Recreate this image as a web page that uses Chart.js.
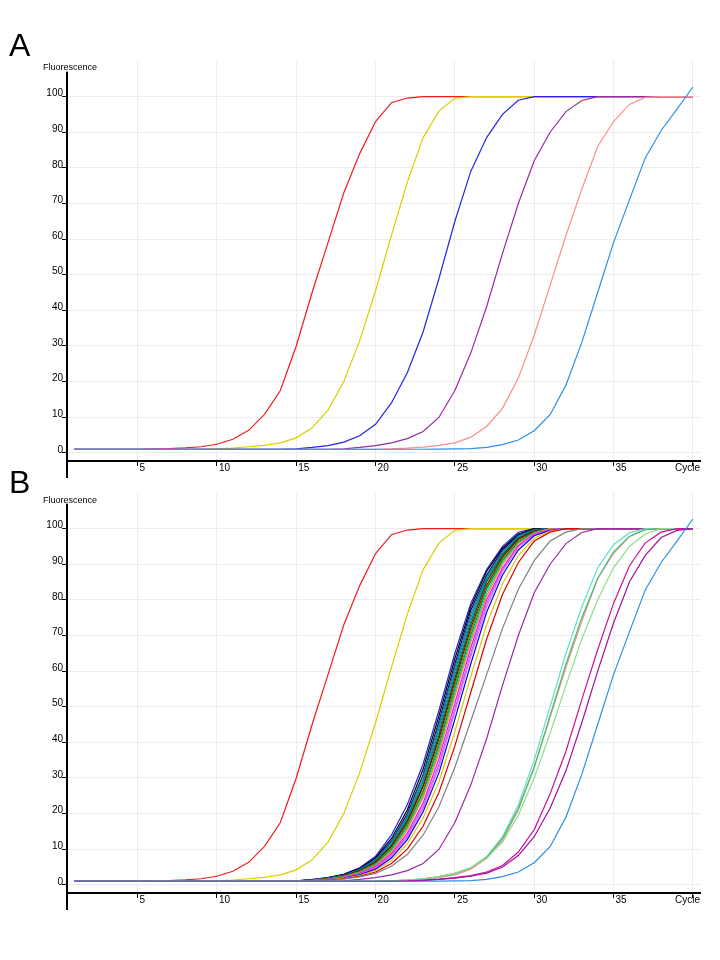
<!DOCTYPE html>
<html>
<head>
<meta charset="utf-8">
<script src="https://cdn.jsdelivr.net/npm/chart.js@4.4.1/dist/chart.umd.min.js"></script>
<style>
  body { margin: 0; background: #fff; width: 720px; height: 960px; position: relative; overflow: hidden;
         font-family: "Liberation Sans", Arial, sans-serif; }
  .panel { position: absolute; left: 0; width: 720px; height: 480px; }
  .letter { position: absolute; left: 9px; font-size: 32px; line-height: 1; color: #000; }
  .ytitle { position: absolute; left: 43px; font-size: 9px; line-height: 1; color: #000; }
</style>
</head>
<body>
<canvas id="chartA" class="panel" style="top:0" width="720" height="480"></canvas>
<canvas id="chartB" class="panel" style="top:432px" width="720" height="480"></canvas>
<div class="letter" style="top:29px">A</div>
<div class="letter" style="top:466px">B</div>
<div class="ytitle" style="top:63px">Fluorescence</div>
<div class="ytitle" style="top:496px">Fluorescence</div>

<script>
// axis ticks
const xTicks = [5, 10, 15, 20, 25, 30, 35, 40];
const xTickLabels = ["5", "10", "15", "20", "25", "30", "35", ""];
const yTicks = [0, 10, 20, 30, 40, 50, 60, 70, 80, 90, 100];
const yTickLabels = ["0", "10", "20", "30", "40", "50", "60", "70", "80", "90", "100"];

const cycles = [1,2,3,4,5,6,7,8,9,10, 11,12,13,14,15,16,17,18,19,20,
                21,22,23,24,25,26,27,28,29,30, 31,32,33,34,35,36,37,38,39,40];

// panel A curves (also reused in B)
const redCurve = [1,1,1,1,1,1.1,1.2,1.4,1.7,2.4, 3.8,6.3,10.8,17.5,30,45,59,73,84,93,
                  98.3,99.6,100,100,100,100,100,100,100,100, 100,100,100,100,100,100,100,100,100,100];
const yellowCurve = [1,1,1,1,1,1,1,1,1,1.1, 1.3,1.7,2.1,2.8,4.2,7,12,20,31.5,45.5,
                     61,76,88.5,96,99.5,100,100,100,100,100, 100,100,100,100,100,100,100,100,100,100];
const blueCurve = [1,1,1,1,1,1,1,1,1,1, 1,1,1,1,1.1,1.5,2,3,4.8,8,
                   14,22.5,34,49,65,79,88.5,95,99,100, 100,100,100,100,100,100,100,100,100,100];
const purpleCurve = [1,1,1,1,1,1,1,1,1,1, 1,1,1,1,1,1,1,1.1,1.5,2,
                     2.8,4,6,10,17.5,28,41,56,70,82, 90,95.8,98.9,100,100,100,100,100,100,100];
const salmonCurve = [1,1,1,1,1,1,1,1,1,1, 1,1,1,1,1,1,1,1,1,1,
                     1.1,1.3,1.6,2.1,2.8,4.4,7.4,12.5,21,33, 47,61,74,86,93,97.8,99.8,100,100,100];
const skyCurve = [1,1,1,1,1,1,1,1,1,1, 1,1,1,1,1,1,1,1,1,1,
                  1,1,1,1.05,1.1,1.2,1.5,2.3,3.6,6.2, 10.7,19,31,45,59,71,82.8,90.5,96.5,102.7];

// panel B: the dense group around cycle 24
const blackCurve = [1,1,1,1,1,1,1,1,1,1, 1,1,1,1,1.1,1.4,2,2.9,4.6,7.6,
                    13,21,32.5,47.5,63.5,78,88,94.5,98.5,100, 100,100,100,100,100,100,100,100,100,100];
const navyCurve = [1,1,1,1,1,1,1,1,1,1, 1,1,1,1,1.1,1.35,1.9,2.8,4.4,7.2,
                   12.3,20,31,46,62,77,87,94,98.2,99.8, 100,100,100,100,100,100,100,100,100,100];
const tealCurve = [1,1,1,1,1,1,1,1,1,1, 1,1,1,1,1.05,1.3,1.85,2.7,4.3,7,
                   12,19.5,30.5,45,61,76,86.5,93.5,98,99.7, 100,100,100,100,100,100,100,100,100,100];
const steelCurve = [1,1,1,1,1,1,1,1,1,1, 1,1,1,1,1.05,1.3,1.8,2.7,4.2,6.9,
                    11.8,19,29.5,44,60,75,86,93,97.8,99.6, 100,100,100,100,100,100,100,100,100,100];
const cyanDarkCurve = [1,1,1,1,1,1,1,1,1,1, 1,1,1,1,1.05,1.3,1.8,2.6,4.1,6.7,
                       11.4,18.5,29,43,59,74,85.5,92.8,97.5,99.5, 100,100,100,100,100,100,100,100,100,100];
const greenDarkCurve = [1,1,1,1,1,1,1,1,1,1, 1,1,1,1,1.05,1.25,1.75,2.6,4,6.5,
                        11,18,28,42,58,73,85,92.5,97.3,99.4, 100,100,100,100,100,100,100,100,100,100];
const maroonCurve = [1,1,1,1,1,1,1,1,1,1, 1,1,1,1,1.05,1.25,1.7,2.5,3.9,6.3,
                     10.7,17.5,27.5,41,57,72,84,92,97,99.3, 100,100,100,100,100,100,100,100,100,100];
const oliveCurve = [1,1,1,1,1,1,1,1,1,1, 1,1,1,1,1,1.2,1.7,2.4,3.7,6,
                    10.3,17,26.5,40,56,71,83.5,91.5,96.5,99, 100,100,100,100,100,100,100,100,100,100];
const greenCurve = [1,1,1,1,1,1,1,1,1,1, 1,1,1,1,1,1.2,1.65,2.35,3.6,5.8,
                    10,16.5,26,39,55,70,83,91,96.3,99, 100,100,100,100,100,100,100,100,100,100];
const cyanCurve = [1,1,1,1,1,1,1,1,1,1, 1,1,1,1,1,1.2,1.6,2.3,3.5,5.6,
                   9.6,16,25,38,54,69,82,90.5,96,98.8, 100,100,100,100,100,100,100,100,100,100];
const orangeCurve = [1,1,1,1,1,1,1,1,1,1, 1,1,1,1,1,1.2,1.6,2.2,3.4,5.4,
                     9.2,15.5,24.5,37,53,68,81,90,95.8,98.7, 100,100,100,100,100,100,100,100,100,100];
const magentaCurve = [1,1,1,1,1,1,1,1,1,1, 1,1,1,1,1,1.15,1.55,2.1,3.2,5.1,
                      8.7,14.5,23,35.5,51,66.5,80,89,95.3,98.5, 99.8,100,100,100,100,100,100,100,100,100];
const violetCurve = [1,1,1,1,1,1,1,1,1,1, 1,1,1,1,1,1.15,1.5,2,3,4.8,
                     8.2,13.8,22,34,49.5,65,79,88.5,95,98.3, 99.7,100,100,100,100,100,100,100,100,100];
const orchidCurve = [1,1,1,1,1,1,1,1,1,1, 1,1,1,1,1,1.1,1.5,2,2.9,4.6,
                     7.9,13.3,21.5,33,48.5,64,78,88,94.8,98.2, 99.6,100,100,100,100,100,100,100,100,100];
const pureBlueCurve = [1,1,1,1,1,1,1,1,1,1, 1,1,1,1,1,1.1,1.45,1.95,2.8,4.4,
                       7.5,12.7,20.5,31.5,46.5,62,76.5,87,94,98, 99.5,100,100,100,100,100,100,100,100,100];
const gold2Curve = [1,1,1,1,1,1,1,1,1,1, 1,1,1,1,1,1.1,1.4,1.85,2.6,4,
                    6.8,11.5,18.8,29,43,58.5,73,84.5,92.5,97.3, 99.3,100,100,100,100,100,100,100,100,100];
const red2Curve = [1,1,1,1,1,1,1,1,1,1, 1,1,1,1,1,1.05,1.3,1.7,2.4,3.6,
                   6,10,16.5,26,39,54,69,81.5,90.5,96.5, 99,100,100,100,100,100,100,100,100,100];
const grayCurve = [1,1,1,1,1,1,1,1,1,1, 1,1,1,1,1,1.05,1.25,1.6,2.2,3.2,
                   5.2,8.5,14,22,33,46,59,72,83,91, 96.5,99,100,100,100,100,100,100,100,100];

// panel B: late group around cycle 31-33
const turquoiseCurve = [1,1,1,1,1,1,1,1,1,1, 1,1,1,1,1,1,1,1,1,1,
                        1.1,1.3,1.6,2.1,2.9,4.6,7.8,13.5,22.5,35, 50,65,78,89,95.5,98.8,100,100,100,100];
const seaGreenCurve = [1,1,1,1,1,1,1,1,1,1, 1,1,1,1,1,1,1,1,1,1,
                       1.1,1.3,1.7,2.3,3.2,4.8,7.8,13,21.5,33, 47.5,62,75,86,93.5,97.8,99.7,100,100,100];
const lightGreenCurve = [1,1,1,1,1,1,1,1,1,1, 1,1,1,1,1,1,1,1,1,1,
                         1.1,1.3,1.7,2.3,3.3,4.8,7.5,12,19.5,30, 42.5,56,69,80,89,95,98.5,100,100,100];
const magenta2Curve = [1,1,1,1,1,1,1,1,1,1, 1,1,1,1,1,1,1,1,1,1,
                       1,1.1,1.3,1.6,2,2.6,3.6,5.4,9.2,15.5, 25.5,37.5,52,66,79,89.5,96,99,100,100];
const plumCurve = [1,1,1,1,1,1,1,1,1,1, 1,1,1,1,1,1,1,1,1,1,
                   1,1.05,1.2,1.5,1.9,2.4,3.3,5,8.2,13.5, 21.5,32,45.5,60,73.5,85,92.5,97.5,99.5,100];

function series(color, values) {
  return {
    data: values.map((v, i) => ({ x: cycles[i], y: v })),
    borderColor: color,
    borderWidth: 1.2,
    pointRadius: 0,
    fill: false,
    tension: 0,
  };
}

// draws the y axis line from just under the top down past the x axis
const yAxisLine = {
  id: "yAxisLine",
  afterDraw(chart) {
    const { ctx, chartArea } = chart;
    const top = chart.scales.y.getPixelForValue(107);
    ctx.save();
    ctx.fillStyle = "#000";
    ctx.fillRect(chartArea.left - 1, top, 2, chartArea.bottom + 17 - top);
    ctx.restore();
  },
};

const tickFont = { family: "Liberation Sans", size: 10 };

function makeChart(id, datasets) {
  // later curves are drawn on top
  datasets.forEach((d, i) => { d.order = datasets.length - i; });
  return new Chart(document.getElementById(id), {
    type: "line",
    data: { datasets },
    plugins: [yAxisLine],
    options: {
      responsive: false,
      animation: false,
      layout: { padding: { top: 61, right: 20, bottom: 0, left: 0 } },
      plugins: { legend: { display: false }, tooltip: { enabled: false } },
      scales: {
        x: {
          type: "linear",
          min: 0.55,
          max: 40.45,
          afterBuildTicks: (s) => { s.ticks = xTicks.map((v) => ({ value: v })); },
          afterFit: (s) => { s.height = 19; },
          grid: { color: "#ececec", lineWidth: 1, tickLength: 5, tickColor: "#000", tickWidth: 1 },
          border: { display: true, color: "#000", width: 2 },
          ticks: {
            align: "start",
            labelOffset: 2,
            padding: -4,
            autoSkip: false,
            maxRotation: 0,
            color: "#000",
            font: tickFont,
            callback: (v, i) => xTickLabels[i],
          },
          title: {
            display: true,
            text: "Cycle",
            align: "end",
            color: "#000",
            font: tickFont,
            padding: { top: 0, bottom: 6 },
          },
        },
        y: {
          type: "linear",
          min: -2.3,
          max: 110,
          afterBuildTicks: (s) => { s.ticks = yTicks.map((v) => ({ value: v })); },
          afterFit: (s) => { s.width = 67; },
          grid: { color: "#ececec", lineWidth: 1, tickLength: 5, tickColor: "#000", tickWidth: 1 },
          border: { display: false },
          ticks: {
            padding: -1,
            labelOffset: -3,
            autoSkip: false,
            color: "#000",
            font: tickFont,
            callback: (v, i) => yTickLabels[i],
          },
        },
      },
    },
  });
}

makeChart("chartA", [
  series("#f41a1a", redCurve),
  series("#d8d000", yellowCurve),
  series("#2424e6", blueCurve),
  series("#9a2aa8", purpleCurve),
  series("#ff8c8c", salmonCurve),
  series("#2d8fe6", skyCurve),
]);

makeChart("chartB", [
  series("#f41a1a", redCurve),
  series("#d8d000", yellowCurve),
  series("#2424e6", blueCurve),
  series("#000000", blackCurve),
  series("#000080", navyCurve),
  series("#008080", tealCurve),
  series("#1f6fb0", steelCurve),
  series("#0090a0", cyanDarkCurve),
  series("#006400", greenDarkCurve),
  series("#800000", maroonCurve),
  series("#808000", oliveCurve),
  series("#00a000", greenCurve),
  series("#00c0e0", cyanCurve),
  series("#ff8c00", orangeCurve),
  series("#ff00ff", magentaCurve),
  series("#b060ff", violetCurve),
  series("#e070e0", orchidCurve),
  series("#0000ff", pureBlueCurve),
  series("#d8c800", gold2Curve),
  series("#e00000", red2Curve),
  series("#808080", grayCurve),
  series("#9a2aa8", purpleCurve),
  series("#5fe0d0", turquoiseCurve),
  series("#ff8c8c", salmonCurve),
  series("#40c070", seaGreenCurve),
  series("#88e088", lightGreenCurve),
  series("#d0109a", magenta2Curve),
  series("#a010a0", plumCurve),
  series("#2d8fe6", skyCurve),
]);
</script>
</body>
</html>
